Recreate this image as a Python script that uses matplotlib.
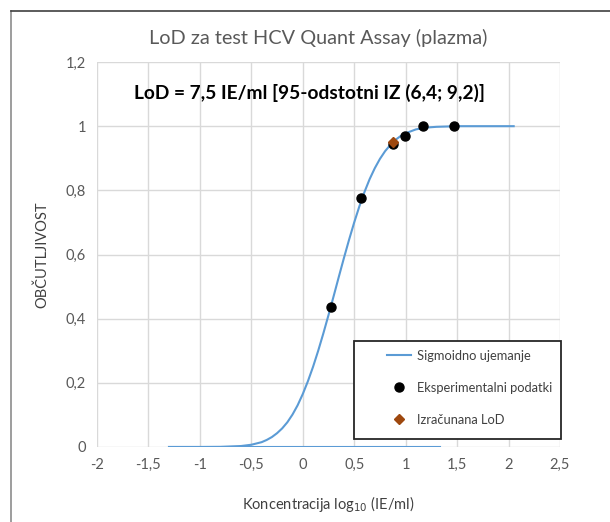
import numpy as np
import matplotlib.pyplot as plt
from matplotlib.lines import Line2D
from matplotlib.patches import Rectangle
from matplotlib.ticker import FuncFormatter

# Sigmoidna krivulja (odcitano s slike)
fit_x = [-1.3, -1.0, -0.8, -0.6, -0.5, -0.4, -0.35, -0.3, -0.25, -0.2, -0.15, -0.1, -0.05,
         0.0, 0.05, 0.1, 0.15, 0.2, 0.25, 0.3, 0.35, 0.4, 0.45, 0.5, 0.55, 0.6, 0.65,
         0.7, 0.75, 0.8, 0.85, 0.9, 0.95, 1.0, 1.1, 1.2, 1.3, 1.5, 1.8, 2.05]
fit_y = [0.0, 0.0, 0.0004, 0.003, 0.007, 0.015, 0.022, 0.031, 0.043, 0.058, 0.077, 0.101, 0.130,
         0.165, 0.205, 0.250, 0.300, 0.354, 0.411, 0.470, 0.530, 0.589, 0.646, 0.700, 0.750, 0.795, 0.835,
         0.869, 0.898, 0.922, 0.941, 0.957, 0.969, 0.978, 0.990, 0.9956, 0.998, 1.0, 1.0, 1.0]
# vodoravna crta pri 0
base_x = [-1.3, 1.33]
base_y = [0.0, 0.0]

# Eksperimentalni podatki
exp_x = [0.27, 0.57, 0.88, 0.99, 1.17, 1.47]
exp_y = [0.435, 0.775, 0.945, 0.97, 1.0, 1.0]

# Izracunana LoD
lod_x = [0.875]
lod_y = [0.952]

plt.rcParams['font.family'] = ['Lato', 'DejaVu Sans']

fig = plt.figure(figsize=(6.1, 5.22), dpi=100)
ax = fig.add_axes([0.159, 0.1437, 0.759, 0.7375])

blue = '#5b9bd5'
ax.plot(fit_x, fit_y, color=blue, lw=1.5, label='Sigmoidno ujemanje', zorder=3)
ax.plot(base_x, base_y, color=blue, lw=1.5, zorder=3)
ax.plot(exp_x, exp_y, 'o', color='black', ms=6.5, label='Eksperimentalni podatki', zorder=4)
ax.plot(lod_x, lod_y, 'D', color='#9e480e', ms=5, label='Izračunana LoD', zorder=5)

ax.set_xlim(-2, 2.5)
ax.set_ylim(0, 1.2)
ax.set_xticks(np.arange(-2, 2.51, 0.5))
ax.set_yticks(np.arange(0, 1.21, 0.2))
fmt = FuncFormatter(lambda v, p: ('%g' % round(v, 2)).replace('.', ','))
ax.xaxis.set_major_formatter(fmt)
ax.yaxis.set_major_formatter(fmt)
ax.tick_params(length=0, labelsize=10.5, colors='#595959', pad=8)
ax.grid(True, color='#d9d9d9', lw=1)
for s in ax.spines.values():
    s.set_visible(False)
ax.set_axisbelow(True)

ax.set_ylabel('OBČUTLJIVOST', fontsize=10.5, color='#404040', labelpad=12)
ax.set_xlabel('Koncentracija log$_{10}$ (IE/ml)', fontsize=10.5, color='#404040', labelpad=16)
fig.text(0.521, 0.927, 'LoD za test HCV Quant Assay (plazma)', fontsize=14.3,
         color='#595959', ha='center', va='center')
ax.text(-1.645, 1.105, 'LoD = 7,5 IE/ml [95-odstotni IZ (6,4; 9,2)]', fontsize=13.8,
        fontweight='bold', ha='left', va='center')

# okvir legende
box = Rectangle((0.555, 0.021), 0.447, 0.254, transform=ax.transAxes, facecolor='white',
                edgecolor='#262626', lw=1.3, clip_on=False, zorder=6)
ax.add_patch(box)
leg = ax.legend(loc='upper left', bbox_to_anchor=(0.626, 0.252), fontsize=9.3,
                frameon=False, borderpad=0, labelspacing=1.55, handlelength=1.9,
                handletextpad=0.4, borderaxespad=0)
leg.set_zorder(7)
for t in leg.get_texts():
    t.set_color('#404040')

# okvir grafikona
fig.add_artist(Line2D([11 / 610, 11 / 610], [0, 1 - 11 / 522], color='#8c8c8c', lw=1.2))
fig.add_artist(Line2D([11 / 610, 1], [1 - 11 / 522, 1 - 11 / 522], color='#404040', lw=1.2))

fig.savefig('out.png', dpi=100)
